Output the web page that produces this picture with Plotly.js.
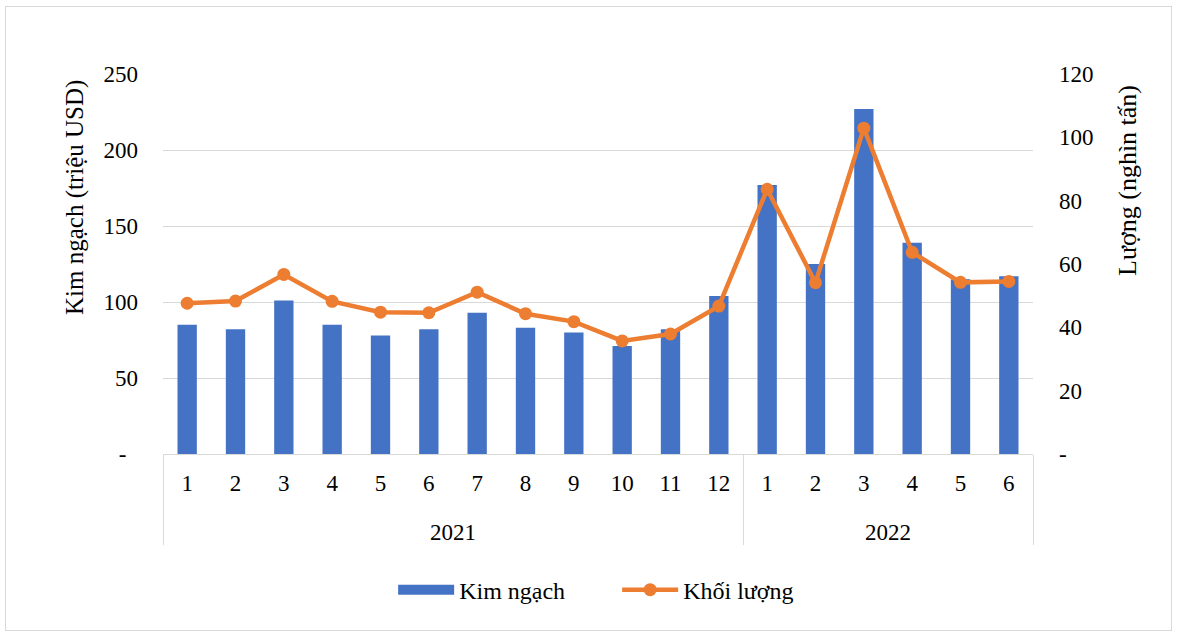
<!DOCTYPE html>
<html>
<head>
<meta charset="utf-8">
<script src="https://cdn.plot.ly/plotly-3.0.1.min.js"></script>
<style>
  html, body { margin: 0; padding: 0; background: #fff; }
  #wrap { position: relative; width: 1177px; height: 635px; }
  #chart { position: absolute; left: 0; top: 0; width: 1177px; height: 635px; }
  #frame { position: absolute; left: 5px; top: 6px; width: 1165px; height: 623px; border: 1px solid #d9d9d9; pointer-events: none; }
</style>
</head>
<body>
<div id="wrap">
  <div id="chart"></div>
  <div id="frame"></div>
</div>
<script>
const years = ['2021','2021','2021','2021','2021','2021','2021','2021','2021','2021','2021','2021',
               '2022','2022','2022','2022','2022','2022'];
const months = ['1','2','3','4','5','6','7','8','9','10','11','12','1','2','3','4','5','6'];
const kimNgach = [85, 82, 101, 85, 78, 82, 93, 83, 80, 71, 82, 104, 177, 125, 227, 139, 115, 117];
const khoiLuong = [47.6, 48.3, 56.7, 48.2, 44.8, 44.6, 51.1, 44.3, 41.8, 35.7, 37.9, 46.7, 83.6, 54.1, 102.9, 63.7, 54.2, 54.5];
const leftTicks = [0, 50, 100, 150, 200, 250];
const leftTickText = ['-\u00a0\u00a0', '50', '100', '150', '200', '250'];
const rightTicks = [0, 20, 40, 60, 80, 100, 120];
const rightTickText = ['-', '20', '40', '60', '80', '100', '120'];

const FONT = 'Liberation Serif';
const BLUE = '#4472C4';
const ORANGE = '#ED7D31';

// year labels sit one line lower than the month labels
const yearLabels = years.map(y => '<br>' + y);

const traces = [
  {
    type: 'bar',
    name: 'Kim ngạch',
    x: [yearLabels, months],
    y: kimNgach,
    marker: { color: BLUE },
    yaxis: 'y',
    showlegend: false
  },
  {
    type: 'scatter',
    mode: 'lines',
    name: 'Kim ngạch',
    x: [null],
    y: [null],
    line: { color: BLUE, width: 11 },
    showlegend: true,
    legendrank: 1
  },
  {
    type: 'scatter',
    mode: 'lines+markers',
    name: 'Khối lượng',
    x: [yearLabels, months],
    y: khoiLuong,
    line: { color: ORANGE, width: 4.5 },
    marker: { color: ORANGE, size: 13 },
    yaxis: 'y2',
    legendrank: 2
  }
];

const layout = {
  width: 1177,
  height: 635,
  margin: { l: 163, r: 144, t: 74, b: 181 },
  paper_bgcolor: 'rgba(0,0,0,0)',
  plot_bgcolor: '#fff',
  font: { family: FONT, size: 23, color: '#000' },
  bargap: 0.6,
  showlegend: true,
  legend: {
    orientation: 'h',
    x: 0.522, xanchor: 'center',
    y: -0.358, yanchor: 'middle',
    font: { family: FONT, size: 24, color: '#000' },
    itemwidth: 56,
    entrywidth: 153,
    entrywidthmode: 'pixels',
    traceorder: 'normal'
  },
  xaxis: {
    type: 'multicategory',
    range: [-0.5, 17.5],
    showline: true,
    linecolor: '#d9d9d9',
    linewidth: 1,
    showgrid: false,
    ticks: '',
    ticklabelstandoff: 8,
    showdividers: true,
    dividercolor: '#d9d9d9',
    dividerwidth: 1,
    tickfont: { family: FONT, size: 23, color: '#000' }
  },
  yaxis: {
    range: [0, 250],
    tickvals: leftTicks,
    ticktext: leftTickText,
    showgrid: true,
    gridcolor: '#d9d9d9',
    gridwidth: 1,
    zeroline: false,
    showline: false,
    ticks: '',
    ticklabelstandoff: 24,
    tickfont: { family: FONT, size: 23, color: '#000' }
  },
  yaxis2: {
    range: [0, 120],
    overlaying: 'y',
    side: 'right',
    tickvals: rightTicks,
    ticktext: rightTickText,
    showgrid: false,
    zeroline: false,
    showline: false,
    ticks: '',
    ticklabelstandoff: 25,
    tickfont: { family: FONT, size: 23, color: '#000' }
  },
  annotations: [
    {
      text: 'Kim ngạch (triệu USD)',
      xref: 'paper', yref: 'paper',
      x: (75 - 163) / 870, y: (454 - 198) / 380,
      xanchor: 'center', yanchor: 'middle',
      textangle: -90, showarrow: false,
      font: { family: FONT, size: 25, color: '#000' }
    },
    {
      text: 'Lượng (nghìn tấn)',
      xref: 'paper', yref: 'paper',
      x: (1127 - 163) / 870, y: (454 - 181) / 380,
      xanchor: 'center', yanchor: 'middle',
      textangle: -90, showarrow: false,
      font: { family: FONT, size: 26, color: '#000' }
    }
  ]
};

Plotly.newPlot('chart', traces, layout, { displayModeBar: false, staticPlot: true });
</script>
</body>
</html>
